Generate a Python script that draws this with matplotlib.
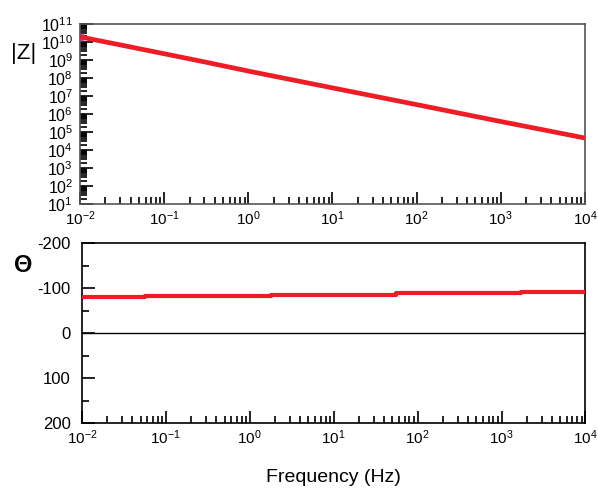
import numpy as np
import matplotlib
matplotlib.use("Agg")
import matplotlib.pyplot as plt
from matplotlib.ticker import LogLocator, NullFormatter, MultipleLocator, FixedLocator

plt.rcParams["font.family"] = ["Liberation Sans", "DejaVu Sans"]
plt.rcParams["axes.unicode_minus"] = False

# |Z| 数据
freq_z = [0.01, 0.0316, 0.1, 0.316, 1.0, 3.16, 10.0, 31.6, 100.0, 316.0, 1000.0, 3160.0, 10000.0]
z_mod = [1.9e10, 6.5e9, 2.2e9, 7.4e8, 2.4e8, 8.2e7, 2.8e7, 9.6e6, 3.3e6, 1.12e6, 3.8e5, 1.33e5, 4.6e4]

# 相位数据（阶梯状）
freq_ph = [0.01, 0.057, 1.8, 56.0, 1700.0, 10000.0]
phase = [-81, -83, -85.5, -88, -91, -91]

fig = plt.figure(figsize=(5.98, 4.88), dpi=100)
ax1 = fig.add_axes([0.134, 0.582, 0.844, 0.369])
ax2 = fig.add_axes([0.137, 0.133, 0.842, 0.369])

# 上图 |Z|
ax1.plot(freq_z, z_mod, color="#ee1c25", lw=3.4, solid_capstyle="butt", zorder=3)
ax1.plot(freq_z[0], z_mod[0], "s", color="#e040e0", ms=5, zorder=2)
ax1.set_xscale("log")
ax1.set_yscale("log")
ax1.set_xlim(1e-2, 1e4)
ax1.set_ylim(1e1, 1e11)
ax1.yaxis.set_major_locator(LogLocator(base=10, numticks=20))
ax1.yaxis.set_minor_locator(LogLocator(base=10, subs=np.arange(2, 10), numticks=20))
ax1.yaxis.set_minor_formatter(NullFormatter())

# 下图 相位
ax2.plot(freq_ph, phase, color="#ee1c25", lw=3, drawstyle="steps-post", zorder=3)
ax2.plot([freq_ph[0], freq_ph[0]], [-75, -87], color="#e040e0", lw=1.5, zorder=2)
ax2.axhline(0, color="black", lw=1)
ax2.set_xscale("log")
ax2.set_xlim(1e-2, 1e4)
ax2.set_ylim(200, -200)
ax2.yaxis.set_major_locator(FixedLocator([-200, -100, 0, 100, 200]))
ax2.yaxis.set_minor_locator(MultipleLocator(50))

for ax, sc in [(ax1, "#555555"), (ax2, "black")]:
    ax.xaxis.set_major_locator(LogLocator(base=10, numticks=10))
    ax.xaxis.set_minor_locator(LogLocator(base=10, subs=np.arange(2, 10), numticks=10))
    ax.xaxis.set_minor_formatter(NullFormatter())
    ax.tick_params(which="both", direction="in", top=False, right=False, color="black")
    ax.tick_params(which="major", length=9, width=1.2)
    ax.tick_params(which="minor", length=5, width=1.2)
    ax.tick_params(axis="x", which="both", pad=4, labelsize=11)
    for s in ax.spines.values():
        s.set_color(sc)
        s.set_linewidth(1.2)

ax1.tick_params(axis="y", which="both", pad=5, labelsize=11.5)
ax2.tick_params(axis="y", which="both", pad=8, labelsize=12)

fig.text(24 / 598, 1 - 53 / 488, "|Z|", ha="center", va="center", fontsize=16)
fig.text(23 / 598, 1 - 265 / 488, "Θ", ha="center", va="center", fontsize=17, fontweight="bold")
fig.text(333 / 598, 1 - 478 / 488, "Frequency (Hz)", ha="center", va="center", fontsize=14)

fig.savefig("out.png", dpi=100)
